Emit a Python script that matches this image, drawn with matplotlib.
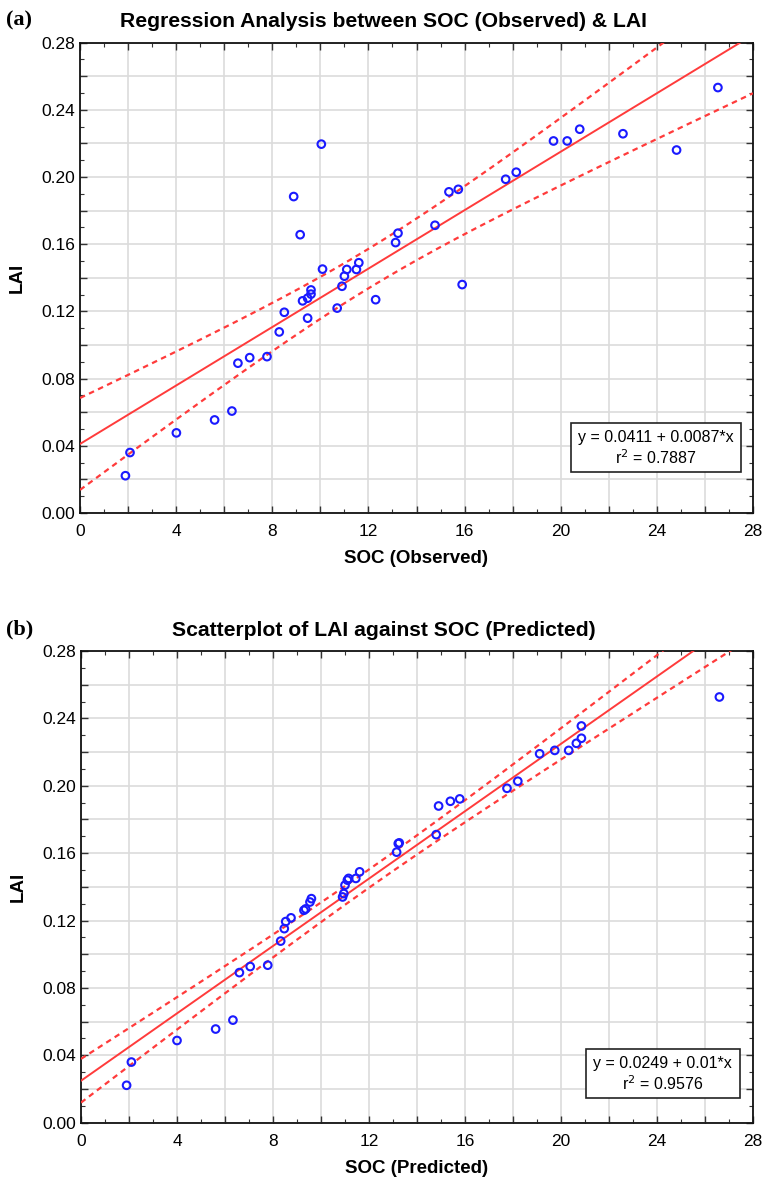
import numpy as np
import matplotlib
matplotlib.use("Agg")
import matplotlib.pyplot as plt
from matplotlib.ticker import MultipleLocator, FuncFormatter
from matplotlib.patches import Rectangle

# ---------------- data ----------------
soc_obs = [1.89, 2.08, 4.01, 5.60, 6.32, 6.57, 7.06, 7.78, 8.29, 8.50,
           9.47, 9.26, 9.47, 9.61, 9.61, 10.09, 9.16, 8.89, 10.04, 10.70,
           10.90, 11.00, 11.10, 11.50, 11.60, 12.30, 13.13, 13.23, 14.77, 15.35,
           15.74, 15.90, 17.71, 18.15, 19.70, 20.27, 20.79, 22.59, 24.82, 26.54]
lai_obs = [0.0222, 0.0360, 0.0477, 0.0554, 0.0607, 0.0892, 0.0925, 0.0931, 0.1078, 0.1195,
           0.1160, 0.1263, 0.1279, 0.1303, 0.1328, 0.1452, 0.1657, 0.1884, 0.2196, 0.1220,
           0.1350, 0.1410, 0.1450, 0.1450, 0.1490, 0.1270, 0.1610, 0.1666, 0.1713, 0.1912,
           0.1927, 0.1360, 0.1987, 0.2029, 0.2215, 0.2215, 0.2285, 0.2258, 0.2161, 0.2533]

soc_pred = [1.90, 2.10, 4.00, 5.61, 6.33, 6.60, 7.05, 7.78, 8.32, 8.47,
            8.53, 8.75, 9.29, 9.36, 9.54, 9.60, 10.90, 10.95, 11.00, 11.10,
            11.15, 11.45, 11.61, 13.15, 13.22, 13.26, 14.80, 14.90, 15.39, 15.78,
            17.75, 18.20, 19.11, 19.74, 20.32, 20.64, 20.85, 20.85, 26.60]
lai_pred = [0.0222, 0.0360, 0.0488, 0.0556, 0.0609, 0.0891, 0.0927, 0.0935, 0.1078, 0.1152,
            0.1194, 0.1216, 0.1261, 0.1269, 0.1310, 0.1330, 0.1340, 0.1360, 0.1410, 0.1440,
            0.1450, 0.1450, 0.1489, 0.1606, 0.1657, 0.1661, 0.1710, 0.1880, 0.1908, 0.1922,
            0.1985, 0.2027, 0.2190, 0.2210, 0.2210, 0.2252, 0.2282, 0.2355, 0.2527]

fit_obs = (0.0411, 0.0087, 0.7887)
fit_pred = (0.0249, 0.01, 0.9576)

titles = ["Regression Analysis between SOC (Observed) & LAI",
          "Scatterplot of LAI against SOC (Predicted)"]
xlabels = ["SOC (Observed)", "SOC (Predicted)"]
panel_tags = ["(a)", "(b)"]
eq_texts = ["y = 0.0411 + 0.0087*x", "y = 0.0249 + 0.01*x"]

# ---------------- style ----------------
plt.rcParams['font.family'] = ['Liberation Sans', 'DejaVu Sans']
W, H = 764, 1184
fig = plt.figure(figsize=(W / 100, H / 100), dpi=100)

def px_axes(l, t, r, b):
    return [l / W, 1 - b / H, (r - l) / W, (b - t) / H]

axes_px = [(80, 42.7, 753, 513), (81, 651, 753, 1122.7)]
box_px = [(0.7296, 0.0872, 0.982, 0.1915), (0.751, 0.0517, 0.9807, 0.1556)]
datasets = [(soc_obs, lai_obs, fit_obs), (soc_pred, lai_pred, fit_pred)]

red = '#ff3b3b'
blue = '#1a1aff'

for i in range(2):
    x = np.array(datasets[i][0])
    y = np.array(datasets[i][1])
    a, b, r2 = datasets[i][2]
    ax = fig.add_axes(px_axes(*axes_px[i]))
    ax.set_xlim(0, 28)
    ax.set_ylim(0, 0.28)
    ax.xaxis.set_major_locator(MultipleLocator(2))
    ax.xaxis.set_minor_locator(MultipleLocator(1))
    ax.yaxis.set_major_locator(MultipleLocator(0.02))
    ax.yaxis.set_minor_locator(MultipleLocator(0.01))
    ax.xaxis.set_major_formatter(FuncFormatter(
        lambda v, p: f"{v:.0f}" if round(v) % 4 == 0 else ""))
    ax.yaxis.set_major_formatter(FuncFormatter(
        lambda v, p: f"{v:.2f}" if round(v * 100) % 4 == 0 else ""))
    ax.tick_params(which='both', direction='in', top=True, right=True,
                   labelsize=12.5, color='#333333')
    ax.tick_params(which='major', length=5, width=1)
    ax.tick_params(which='minor', length=3, width=0.8)
    ax.tick_params(axis='x', pad=8)
    ax.grid(True, which='major', color='#dcdcdc', linewidth=1.2)
    ax.set_axisbelow(True)
    for s in ax.spines.values():
        s.set_linewidth(1.3)
        s.set_color('#111111')

    # regression line with confidence band
    n = len(x)
    xx = np.linspace(0, 28, 300)
    resid = y - (a + b * x)
    s_err = np.sqrt(np.sum(resid ** 2) / (n - 2))
    sxx = np.sum((x - x.mean()) ** 2)
    tval = 2.8
    half = tval * s_err * np.sqrt(1 / n + (xx - x.mean()) ** 2 / sxx)
    yy = a + b * xx
    ax.plot(xx, yy, color=red, lw=1.4, zorder=3)
    ax.plot(xx, yy + half, color=red, lw=1.6, ls=(0, (2.5, 2)), zorder=3)
    ax.plot(xx, yy - half, color=red, lw=1.6, ls=(0, (2.5, 2)), zorder=3)

    ax.scatter(x, y, s=30, facecolors='none', edgecolors=blue, linewidths=1.5, zorder=4)

    ax.set_xlabel(xlabels[i], fontsize=13.5, fontweight='bold', labelpad=8)
    ax.set_ylabel("LAI", fontsize=13.5, fontweight='bold', labelpad=11)

    x0, y0, x1, y1 = box_px[i]
    ax.add_patch(Rectangle((x0, y0), x1 - x0, y1 - y0, transform=ax.transAxes,
                           facecolor='white', edgecolor='#222222', lw=1.2, zorder=5))
    cx = (x0 + x1) / 2
    hgt = y1 - y0
    ax.text(cx, y0 + hgt * 0.71, eq_texts[i], transform=ax.transAxes, ha='center',
            va='center', fontsize=11.5, zorder=6)
    ax.text(cx, y0 + hgt * 0.29, r"r$^{2}$" + f" = {r2:.4f}", transform=ax.transAxes,
            ha='center', va='center', fontsize=11.5, zorder=6)

    top_px = axes_px[i][1]
    fig.text(384 / W, 1 - (top_px - 21) / H, titles[i], fontsize=15.2,
             fontweight='bold', ha='center', va='center')
    fig.text(6 / W, 1 - (top_px - 22) / H, panel_tags[i], family='Liberation Serif',
             fontweight='bold', fontsize=16, va='center', ha='left')

fig.savefig("out.png", dpi=100)
